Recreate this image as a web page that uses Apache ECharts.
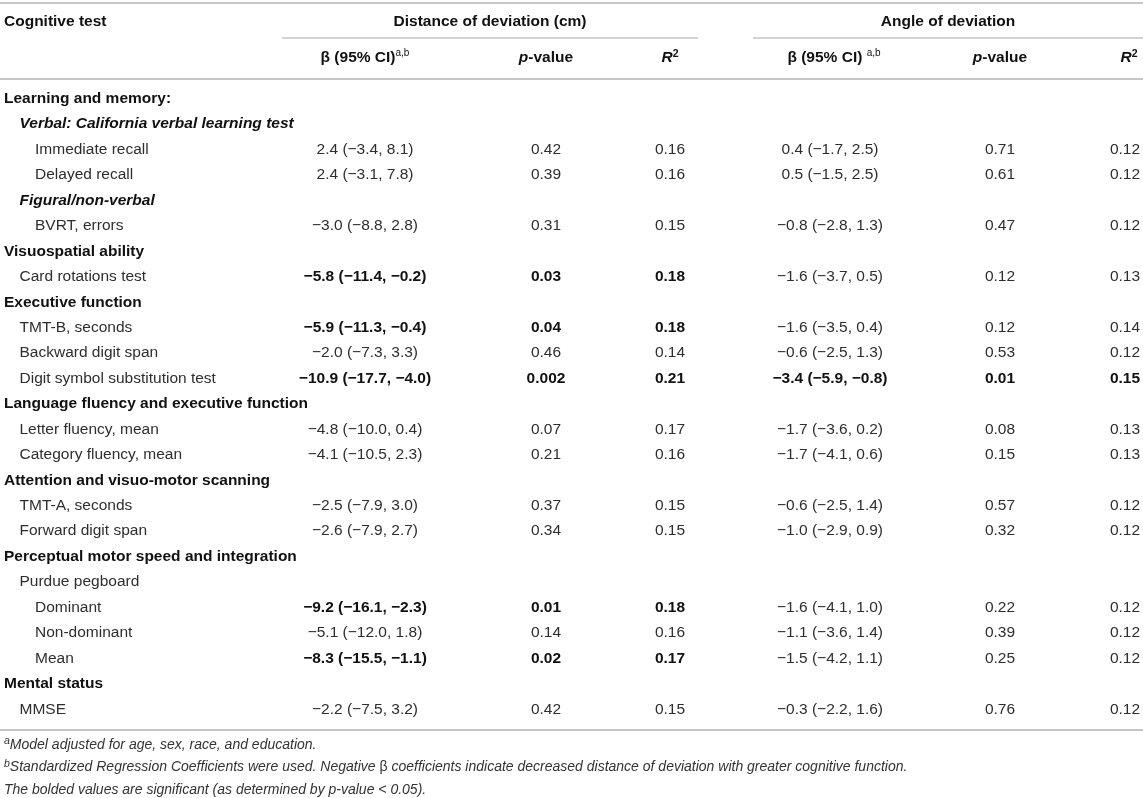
<!DOCTYPE html>
<html>
<head>
<meta charset="utf-8">
<script src="https://cdn.jsdelivr.net/npm/echarts@6/dist/echarts.min.js"></script>
<style>
html,body{margin:0;padding:0;background:#fff;}
#c{width:1143px;height:798px;}
</style>
</head>
<body>
<div id="c"></div>
<script>
// ---------- DATA ----------
const rowLabels = [
  'Learning and memory:',
  'Verbal: California verbal learning test',
  'Immediate recall',
  'Delayed recall',
  'Figural/non-verbal',
  'BVRT, errors',
  'Visuospatial ability',
  'Card rotations test',
  'Executive function',
  'TMT-B, seconds',
  'Backward digit span',
  'Digit symbol substitution test',
  'Language fluency and executive function',
  'Letter fluency, mean',
  'Category fluency, mean',
  'Attention and visuo-motor scanning',
  'TMT-A, seconds',
  'Forward digit span',
  'Perceptual motor speed and integration',
  'Purdue pegboard',
  'Dominant',
  'Non-dominant',
  'Mean',
  'Mental status',
  'MMSE'
];
// 'h' = section heading (bold), 's' = sub-heading (bold italic), 'i' = item
const rowKind = ['h','s','i','i','s','i','h','i','h','i','i','i','h','i','i','h','i','i','h','i','i','i','i','h','i'];
const rowIndent = [0,1,2,2,1,2,0,1,0,1,1,1,0,1,1,0,1,1,0,1,2,2,2,0,1];

// Distance of deviation (cm)
const distBeta = [null,null,2.4,2.4,null,-3.0,null,-5.8,null,-5.9,-2.0,-10.9,null,-4.8,-4.1,null,-2.5,-2.6,null,null,-9.2,-5.1,-8.3,null,-2.2];
const distLo   = [null,null,-3.4,-3.1,null,-8.8,null,-11.4,null,-11.3,-7.3,-17.7,null,-10.0,-10.5,null,-7.9,-7.9,null,null,-16.1,-12.0,-15.5,null,-7.5];
const distHi   = [null,null,8.1,7.8,null,2.8,null,-0.2,null,-0.4,3.3,-4.0,null,0.4,2.3,null,3.0,2.7,null,null,-2.3,1.8,-1.1,null,3.2];
const distP    = [null,null,'0.42','0.39',null,'0.31',null,'0.03',null,'0.04','0.46','0.002',null,'0.07','0.21',null,'0.37','0.34',null,null,'0.01','0.14','0.02',null,'0.42'];
const distR2   = [null,null,'0.16','0.16',null,'0.15',null,'0.18',null,'0.18','0.14','0.21',null,'0.17','0.16',null,'0.15','0.15',null,null,'0.18','0.16','0.17',null,'0.15'];

// Angle of deviation
const angBeta = [null,null,0.4,0.5,null,-0.8,null,-1.6,null,-1.6,-0.6,-3.4,null,-1.7,-1.7,null,-0.6,-1.0,null,null,-1.6,-1.1,-1.5,null,-0.3];
const angLo   = [null,null,-1.7,-1.5,null,-2.8,null,-3.7,null,-3.5,-2.5,-5.9,null,-3.6,-4.1,null,-2.5,-2.9,null,null,-4.1,-3.6,-4.2,null,-2.2];
const angHi   = [null,null,2.5,2.5,null,1.3,null,0.5,null,0.4,1.3,-0.8,null,0.2,0.6,null,1.4,0.9,null,null,1.0,1.4,1.1,null,1.6];
const angP    = [null,null,'0.71','0.61',null,'0.47',null,'0.12',null,'0.12','0.53','0.01',null,'0.08','0.15',null,'0.57','0.32',null,null,'0.22','0.39','0.25',null,'0.76'];
const angR2   = [null,null,'0.12','0.12',null,'0.12',null,'0.13',null,'0.14','0.12','0.15',null,'0.13','0.13',null,'0.12','0.12',null,null,'0.12','0.12','0.12',null,'0.12'];

const groupHeaders = ['Distance of deviation (cm)', 'Angle of deviation'];
const footnotes = [
  ['a', 'Model adjusted for age, sex, race, and education.'],
  ['b', 'Standardized Regression Coefficients were used. Negative β coefficients indicate decreased distance of deviation with greater cognitive function.'],
  ['', 'The bolded values are significant (as determined by p-value < 0.05).']
];

// ---------- LAYOUT ----------
const W = 1143, H = 798;
const FF = '"Liberation Sans", Arial, Helvetica, sans-serif';
const FS = 15.5;
const colX = { label: 4, dBeta: 365, dP: 546, dR2: 670, aBeta: 830, aP: 1000, aR2: 1125 };
const indentStep = 15.5;
const C_TXT = '#2e2e2e', C_BOLD = '#111', C_LINE = '#c6c6c6';

function fmt(v) { return (v < 0 ? '\u2212' : '') + Math.abs(v).toFixed(1); }
function ci(b, lo, hi) { return fmt(b) + ' (' + fmt(lo) + ', ' + fmt(hi) + ')'; }
function font(bold, italic) { return (italic ? 'italic ' : '') + (bold ? 'bold ' : '') + FS + 'px ' + FF; }

const chart = echarts.init(document.getElementById('c'), null, { renderer: 'canvas', width: W, height: H });

function txt(x, y, text, opt) {
  opt = opt || {};
  return {
    type: 'text', x: x, y: y,
    style: Object.assign({
      text: text, fill: opt.fill || C_TXT,
      font: opt.font || font(false, false),
      align: opt.align || 'center', verticalAlign: 'middle'
    }, opt.rich ? { rich: opt.rich } : {})
  };
}

const supRich = {
  m: { fontSize: FS, fontWeight: 'bold', fontFamily: FF, fill: C_BOLD, lineHeight: 19 },
  sup: { fontSize: 10, fontWeight: 'normal', fontFamily: FF, fill: C_BOLD, verticalAlign: 'top', lineHeight: 10 },
  it: { fontSize: FS, fontWeight: 'bold', fontStyle: 'italic', fontFamily: FF, fill: C_BOLD, lineHeight: 19 },
  supb: { fontSize: 10.5, fontWeight: 'bold', fontFamily: FF, fill: C_BOLD, verticalAlign: 'top', lineHeight: 10 }
};
const footRich = {
  t: { fontSize: 14, fontStyle: 'italic', fontFamily: FF, fill: '#333', lineHeight: 18 },
  n: { fontSize: 14, fontFamily: FF, fill: '#333', lineHeight: 18 },
  s: { fontSize: 10.5, fontStyle: 'italic', fontFamily: FF, fill: '#333', verticalAlign: 'top', lineHeight: 10 }
};

const hRow1 = 22, hRow2 = 58;
const graphics = [
  { type: 'line', shape: { x1: 0, y1: 3, x2: W, y2: 3 }, style: { stroke: C_LINE, lineWidth: 2 } },
  { type: 'line', shape: { x1: 282, y1: 38, x2: 698, y2: 38 }, style: { stroke: C_LINE, lineWidth: 1.5 } },
  { type: 'line', shape: { x1: 753, y1: 38, x2: W, y2: 38 }, style: { stroke: C_LINE, lineWidth: 1.5 } },
  { type: 'line', shape: { x1: 0, y1: 79, x2: W, y2: 79 }, style: { stroke: C_LINE, lineWidth: 2 } },
  { type: 'line', shape: { x1: 0, y1: 730, x2: W, y2: 730 }, style: { stroke: C_LINE, lineWidth: 2 } },
  txt(4, hRow1, 'Cognitive test', { align: 'left', font: font(true), fill: C_BOLD }),
  txt(490, hRow1, groupHeaders[0], { font: font(true), fill: C_BOLD }),
  txt(948, hRow1, groupHeaders[1], { font: font(true), fill: C_BOLD }),
  txt(colX.dBeta, hRow2, '{m|β (95% CI)}{sup|a,b}', { rich: supRich }),
  txt(colX.dP, hRow2, '{it|p}{m|-value}', { rich: supRich }),
  txt(colX.dR2, hRow2, '{it|R}{supb|2}', { rich: supRich }),
  txt(colX.aBeta + 4, hRow2, '{m|β (95% CI) }{sup|a,b}', { rich: supRich }),
  txt(colX.aP, hRow2, '{it|p}{m|-value}', { rich: supRich }),
  txt(1129, hRow2, '{it|R}{supb|2}', { rich: supRich })
];
footnotes.forEach(function (f, k) {
  const body = '{t|' + f[1].replace('β', '}{n|β}{t|') + '}';
  const s = (f[0] ? '{s|' + f[0] + '}' : '') + body;
  graphics.push(txt(4, 745 + k * 22.5, s, { align: 'left', rich: footRich }));
});

chart.setOption({
  backgroundColor: '#fff',
  animation: false,
  grid: { left: 0, right: 0, top: 86, height: 636 },
  xAxis: { type: 'value', min: 0, max: W, show: false },
  yAxis: { type: 'category', data: rowLabels, inverse: true, show: false },
  graphic: graphics,
  series: [{
    type: 'custom',
    coordinateSystem: 'cartesian2d',
    encode: { x: 0, y: 1 },
    data: rowLabels.map(function (_, i) { return [0, i]; }),
    renderItem: function (params, api) {
      const i = api.value(1);
      const pt = function (x) { return api.coord([x, i]); };
      const kind = rowKind[i];
      const children = [];
      const lp = pt(colX.label + rowIndent[i] * indentStep);
      children.push(txt(lp[0], lp[1], rowLabels[i], {
        align: 'left',
        font: font(kind !== 'i', kind === 's'),
        fill: kind !== 'i' ? C_BOLD : C_TXT
      }));
      if (distBeta[i] !== null) {
        const bd = parseFloat(distP[i]) < 0.05;
        const ba = parseFloat(angP[i]) < 0.05;
        const fd = { font: font(bd), fill: bd ? C_BOLD : C_TXT };
        const fa = { font: font(ba), fill: ba ? C_BOLD : C_TXT };
        let p;
        p = pt(colX.dBeta); children.push(txt(p[0], p[1], ci(distBeta[i], distLo[i], distHi[i]), fd));
        p = pt(colX.dP);    children.push(txt(p[0], p[1], distP[i], fd));
        p = pt(colX.dR2);   children.push(txt(p[0], p[1], distR2[i], fd));
        p = pt(colX.aBeta); children.push(txt(p[0], p[1], ci(angBeta[i], angLo[i], angHi[i]), fa));
        p = pt(colX.aP);    children.push(txt(p[0], p[1], angP[i], fa));
        p = pt(colX.aR2);   children.push(txt(p[0], p[1], angR2[i], fa));
      }
      return { type: 'group', children: children };
    }
  }]
});
</script>
</body>
</html>
